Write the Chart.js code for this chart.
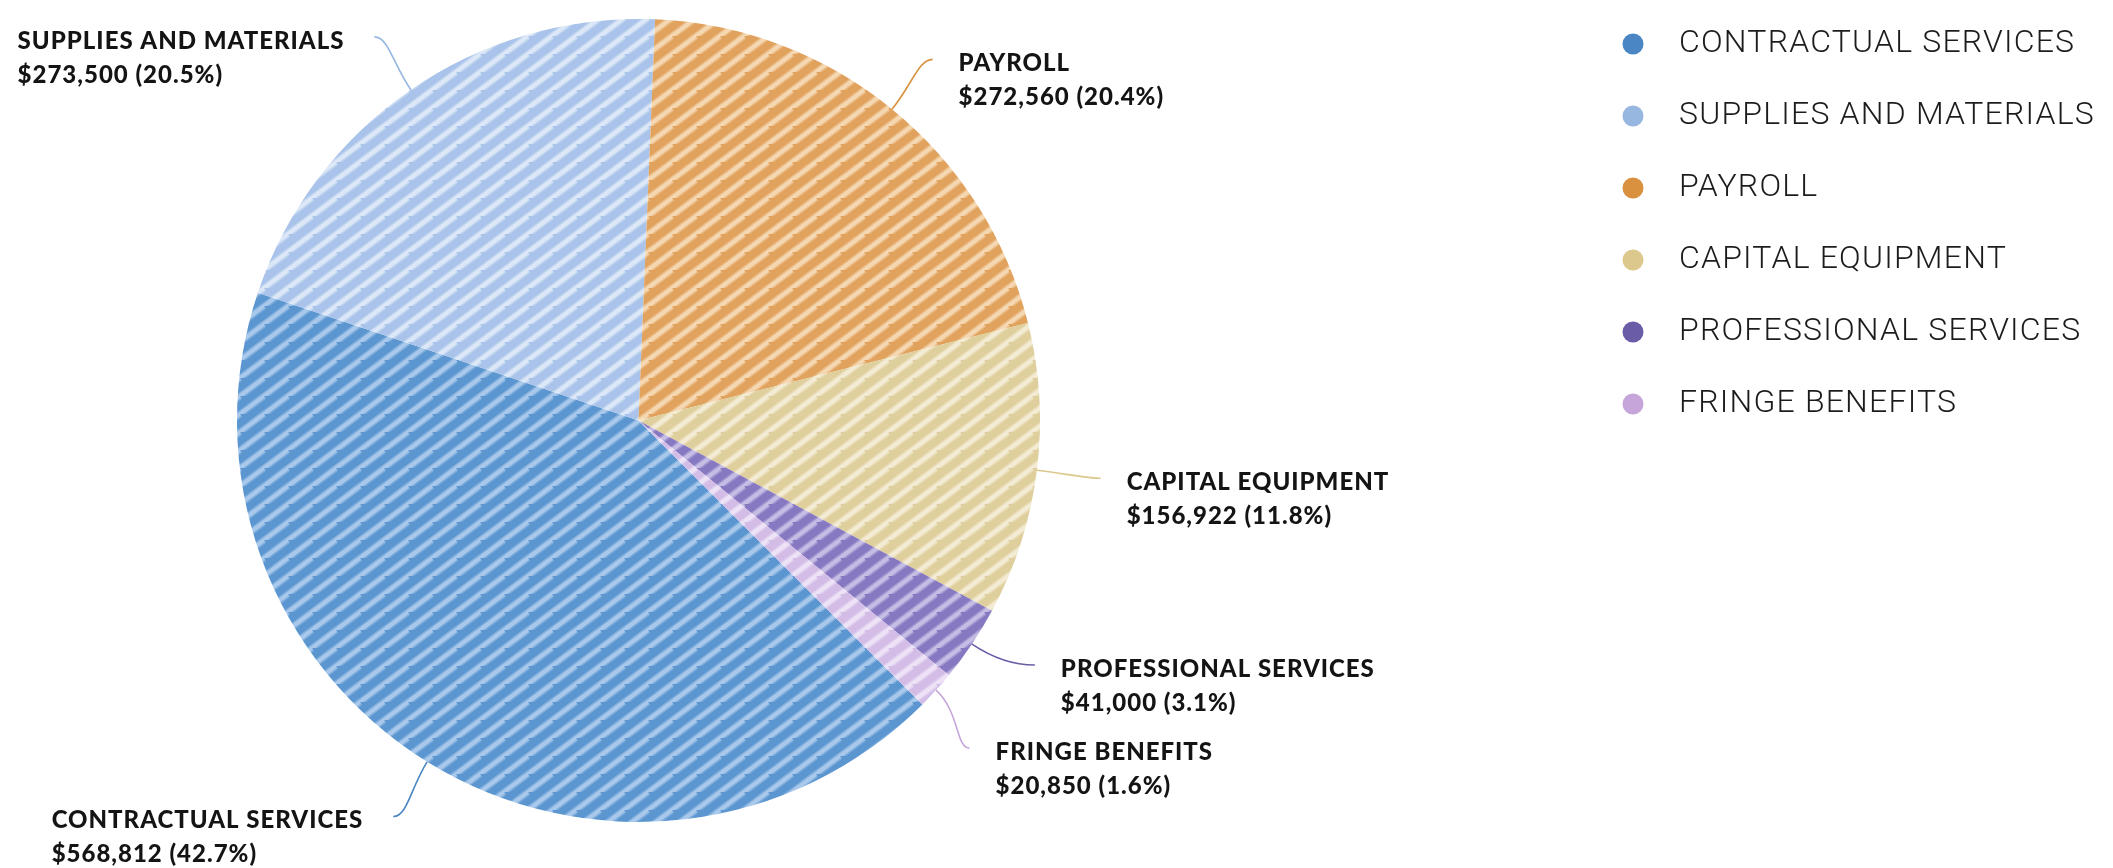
<!DOCTYPE html>
<html>
<head>
<meta charset="utf-8">
<title>Budget by category</title>
<script src="https://cdn.jsdelivr.net/npm/chart.js@4.4.1/dist/chart.umd.min.js"></script>
<style>
  html, body { margin: 0; padding: 0; background: #ffffff; }
  #wrap { position: relative; width: 2113px; height: 868px; }
</style>
</head>
<body>
<div id="wrap"><canvas id="budget"></canvas></div>
<script>
// Budget categories and amounts (USD)
const categories = [
  'CONTRACTUAL SERVICES',
  'SUPPLIES AND MATERIALS',
  'PAYROLL',
  'CAPITAL EQUIPMENT',
  'PROFESSIONAL SERVICES',
  'FRINGE BENEFITS'
];
const amounts = [568812, 273500, 272560, 156922, 41000, 20850];

// Key / leader colours, slice fills and the lighter hatch stripes
const keyColors    = ['#4a86c4', '#97b7e1', '#d9913f', '#dcc88c', '#6b5ca8', '#c6a6da'];
const fillColors   = ['#5b96d0', '#a9c3ea', '#e0a25c', '#dfcf9d', '#8779c1', '#d3bde6'];
const stripeColors = ['#a9c9ec', '#dce8f7', '#f5d7b2', '#f3ebd3', '#c6bde5', '#eee3f6'];

const total = amounts.reduce((a, b) => a + b, 0);

// Diagonal hatch fill ("/" stripes) for a slice
function hatch(base, stripe) {
  const W = 24, H = 18;
  const c = document.createElement('canvas');
  c.width = W; c.height = H;
  const g = c.getContext('2d');
  g.fillStyle = base;
  g.fillRect(0, 0, W, H);
  g.strokeStyle = stripe;
  [[7, 0.45], [4, 1]].forEach(([lw, a]) => {
    g.globalAlpha = a;
    g.lineWidth = lw;
    g.beginPath();
    for (let k = -2; k <= 2; k++) {
      g.moveTo(k * W, H);
      g.lineTo((k + 1) * W, 0);
      g.moveTo(k * W - W, 2 * H);
      g.lineTo(k * W, H);
    }
    g.stroke();
  });
  return g.createPattern(c, 'repeat');
}

// Legend key: a dot at the right end of a wide key box
const KEY_BOX = 377;
function keyDot(color) {
  const c = document.createElement('canvas');
  c.width = KEY_BOX; c.height = 22;
  const g = c.getContext('2d');
  g.fillStyle = color;
  g.beginPath();
  g.arc(KEY_BOX - 30, 11, 10.5, 0, Math.PI * 2);
  g.fill();
  return c;
}

const legendFont = { family: 'Roboto', weight: '300', size: 32, lineHeight: '63px' };
const LEGEND_TRACKING = '1.2px';
const probe = document.createElement('canvas').getContext('2d');
probe.font = legendFont.weight + ' ' + legendFont.size + 'px ' + legendFont.family;
probe.letterSpacing = LEGEND_TRACKING;
const legendTextWidth = Math.max(...categories.map(t => probe.measureText(t).width));

// Letter spacing for the legend text, active while the legend is measured and drawn
const legendTracking = {
  id: 'legendTracking',
  beforeLayout(chart) { chart.ctx.letterSpacing = LEGEND_TRACKING; },
  beforeDraw(chart) { chart.ctx.letterSpacing = LEGEND_TRACKING; },
  beforeDatasetsDraw(chart) { chart.ctx.letterSpacing = '0px'; }
};

// Outside labels with curved leader lines
const LABEL_FONT = '900 24px Lato';
const LABEL_TRACKING = '1.0px';
const LINE_GAP = 34;
const MIN_GAP = 83;
const callouts = {
  id: 'callouts',
  afterDatasetsDraw(chart) {
    const ctx = chart.ctx;
    const meta = chart.getDatasetMeta(0);
    const items = meta.data.map((arc, i) => {
      const p = arc.getProps(['x', 'y', 'startAngle', 'endAngle', 'outerRadius'], true);
      const mid = (p.startAngle + p.endAngle) / 2;
      const cos = Math.cos(mid), sin = Math.sin(mid);
      const R = p.outerRadius * 1.16;
      return { i, cx: p.x, cy: p.y, r: p.outerRadius, R, cos, sin,
               side: cos >= 0 ? 1 : -1, ey: p.y + R * sin };
    });

    // push labels on the same side apart so they do not overlap
    [1, -1].forEach(side => {
      const group = items.filter(d => d.side === side).sort((a, b) => a.ey - b.ey);
      for (let pass = 0; pass < 30; pass++) {
        let moved = false;
        for (let k = 1; k < group.length; k++) {
          const a = group[k - 1], b = group[k];
          const gap = b.ey - a.ey;
          if (gap < MIN_GAP - 0.01) {
            const d = (MIN_GAP - gap) / 2;
            a.ey -= d; b.ey += d; moved = true;
          }
        }
        if (!moved) break;
      }
    });

    ctx.save();
    items.forEach(d => {
      const dy = Math.max(-d.R, Math.min(d.R, d.ey - d.cy));
      const ex = d.cx + d.side * Math.sqrt(d.R * d.R - dy * dy);
      const ey = d.ey;
      const x0 = d.cx + d.r * d.cos, y0 = d.cy + d.r * d.sin;
      const x1 = d.cx + d.r * 1.08 * d.cos, y1 = d.cy + d.r * 1.08 * d.sin;

      ctx.strokeStyle = keyColors[d.i];
      ctx.lineWidth = 1.6;
      ctx.beginPath();
      ctx.moveTo(x0, y0);
      ctx.bezierCurveTo(x1, y1, ex - d.side * 14, ey, ex, ey);
      ctx.stroke();

      const name = categories[d.i];
      const value = '$' + amounts[d.i].toLocaleString('en-US') +
                    ' (' + (amounts[d.i] / total * 100).toFixed(1) + '%)';
      ctx.font = LABEL_FONT;
      ctx.letterSpacing = LABEL_TRACKING;
      ctx.fillStyle = '#141414';
      ctx.textAlign = 'left';
      ctx.textBaseline = 'alphabetic';
      const w = Math.max(ctx.measureText(name).width, ctx.measureText(value).width);
      const tx = d.side > 0 ? ex + 26 : ex - 30 - w;
      ctx.fillText(name, tx, ey + 12);
      ctx.fillText(value, tx, ey + 12 + LINE_GAP);
    });
    ctx.restore();
  }
};

new Chart(document.getElementById('budget'), {
  type: 'pie',
  data: {
    labels: categories,
    datasets: [{
      data: amounts,
      backgroundColor: fillColors.map((c, i) => hatch(c, stripeColors[i])),
      borderWidth: 0,
      hoverOffset: 0
    }]
  },
  options: {
    responsive: true,
    maintainAspectRatio: false,
    animation: false,
    events: [],
    rotation: -225,
    layout: { padding: { left: 0, top: 19, bottom: 46, right: 424 - legendTextWidth } },
    plugins: {
      tooltip: { enabled: false },
      legend: {
        position: 'right',
        align: 'start',
        labels: {
          usePointStyle: true,
          pointStyleWidth: KEY_BOX,
          padding: 9,
          color: '#1c1c1c',
          font: legendFont,
          generateLabels: () => categories.map((name, i) => ({
            text: [name],
            fillStyle: keyColors[i],
            strokeStyle: keyColors[i],
            fontColor: '#1c1c1c',
            lineWidth: 0,
            pointStyle: keyDot(keyColors[i]),
            hidden: false,
            index: i,
            datasetIndex: 0
          }))
        }
      }
    }
  },
  plugins: [legendTracking, callouts]
});
</script>
</body>
</html>
